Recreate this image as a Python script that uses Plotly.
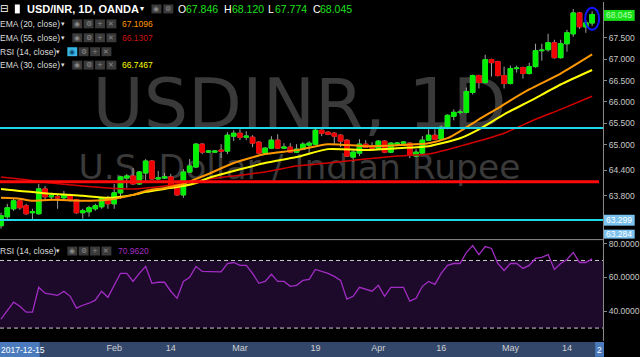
import plotly.graph_objects as go
import pandas as pd

# ---------------- data ----------------
dates = pd.bdate_range("2018-01-08", periods=95) + pd.Timedelta(hours=12)

opens = [63.104, 63.314, 63.500, 63.686, 63.570, 63.407, 63.384, 63.965, 63.779, 63.779,
         63.756, 63.825, 63.709, 63.407, 63.430, 63.500, 63.546, 63.756, 63.616, 63.872,
         64.221, 64.267, 64.081, 64.337, 64.616, 64.198, 64.221, 64.244, 64.012, 63.825,
         64.360, 64.477, 65.011, 64.825, 64.825, 64.872, 64.849, 65.198, 65.267, 65.174,
         65.174, 65.058, 64.802, 64.918, 65.105, 64.918, 64.942, 64.825, 64.895, 64.988,
         65.011, 65.337, 65.291, 65.267, 65.221, 65.105, 64.709, 64.802, 65.011, 64.965,
         64.918, 65.081, 64.825, 65.011, 65.035, 65.035, 64.732, 64.802, 65.105, 65.221,
         65.128, 65.384, 65.663, 65.756, 65.756, 66.221, 66.616, 66.453, 66.988, 66.942,
         66.616, 66.430, 66.779, 66.802, 66.663, 66.825, 67.197, 67.221, 67.383, 67.035,
         67.360, 67.593, 68.081, 67.756, 67.846]
highs = [63.407, 63.616, 63.756, 63.732, 63.616, 63.500, 64.081, 64.035, 63.872, 63.825,
         63.918, 63.849, 63.732, 63.500, 63.570, 63.616, 63.779, 63.802, 64.081, 64.267,
         64.314, 64.453, 64.384, 64.663, 64.639, 64.384, 64.337, 64.314, 64.035, 64.430,
         64.663, 65.035, 65.035, 64.872, 64.872, 65.011, 65.291, 65.337, 65.360, 65.314,
         65.221, 65.081, 64.942, 65.198, 65.244, 65.035, 65.035, 65.011, 65.058, 65.081,
         65.384, 65.360, 65.314, 65.291, 65.244, 65.128, 64.872, 65.128, 65.105, 65.058,
         65.105, 65.105, 65.058, 65.058, 65.081, 65.058, 64.895, 65.198, 65.360, 65.360,
         65.453, 65.709, 65.825, 65.825, 66.337, 66.639, 66.639, 67.104, 67.011, 66.965,
         66.825, 66.849, 66.849, 66.825, 66.918, 67.360, 67.360, 67.593, 67.453, 67.453,
         67.686, 68.174, 68.104, 67.918, 68.120]
lows = [63.035, 63.267, 63.453, 63.477, 63.360, 63.221, 63.360, 63.686, 63.686, 63.500,
        63.686, 63.662, 63.384, 63.267, 63.314, 63.453, 63.500, 63.500, 63.500, 63.732,
        63.988, 64.058, 64.058, 64.128, 64.174, 64.174, 64.198, 63.965, 63.802, 63.756,
        64.337, 64.453, 64.779, 64.802, 64.802, 64.686, 64.779, 65.081, 65.105, 65.105,
        64.942, 64.779, 64.779, 64.895, 64.895, 64.895, 64.802, 64.802, 64.872, 64.802,
        64.988, 65.198, 65.221, 65.011, 64.942, 64.709, 64.593, 64.732, 64.918, 64.895,
        64.895, 64.802, 64.802, 65.011, 65.011, 64.686, 64.709, 64.779, 65.081, 65.105,
        65.105, 65.360, 65.570, 65.709, 65.732, 66.174, 66.314, 66.430, 66.593, 66.593,
        66.314, 66.407, 66.686, 66.546, 66.639, 66.802, 66.965, 67.174, 67.011, 67.011,
        67.174, 67.523, 67.709, 67.616, 67.774]
closes = [63.337, 63.523, 63.686, 63.523, 63.384, 63.430, 63.965, 63.779, 63.802, 63.756,
          63.825, 63.709, 63.407, 63.453, 63.523, 63.570, 63.756, 63.616, 63.872, 64.244,
          64.267, 64.081, 64.360, 64.616, 64.198, 64.221, 64.244, 63.988, 63.825, 64.360,
          64.500, 65.011, 64.825, 64.849, 64.849, 64.849, 65.221, 65.267, 65.174, 65.198,
          65.035, 64.802, 64.918, 65.105, 64.918, 64.942, 64.825, 64.895, 65.011, 65.035,
          65.337, 65.267, 65.244, 65.198, 65.081, 64.732, 64.825, 65.011, 64.942, 64.918,
          65.081, 64.825, 65.035, 65.035, 65.058, 64.756, 64.825, 65.105, 65.221, 65.128,
          65.407, 65.686, 65.756, 65.760, 66.244, 66.616, 66.453, 66.988, 66.918, 66.616,
          66.430, 66.779, 66.790, 66.663, 66.825, 67.197, 67.210, 67.383, 67.035, 67.360,
          67.616, 68.081, 67.756, 67.849, 68.045]

# EMA readings (candle number -> value)
ema20_idx = [1, 4, 6, 9, 14, 18, 22, 24, 27, 30, 32, 34, 38, 43, 48, 53, 59, 64, 69, 72, 74, 77, 80, 81, 85, 90, 95]
ema20_val = [63.756, 63.732, 63.686, 63.709, 63.686, 63.709, 63.825, 63.918, 63.988, 64.081, 64.198, 64.314,
             64.570, 64.779, 64.872, 65.011, 64.965, 64.988, 65.035, 65.151, 65.314, 65.593, 65.849, 65.942,
             66.291, 66.663, 67.1096]
ema30_idx = [1, 4, 6, 9, 14, 18, 22, 24, 27, 30, 32, 34, 38, 43, 48, 53, 59, 64, 69, 74, 77, 81, 85, 90, 95]
ema30_val = [63.965, 63.918, 63.895, 63.849, 63.802, 63.756, 63.825, 63.895, 63.965, 64.035, 64.104, 64.221,
             64.384, 64.570, 64.709, 64.895, 64.872, 64.918, 64.965, 65.151, 65.360, 65.709, 66.011, 66.407,
             66.7467]
ema55_idx = [1, 4, 9, 14, 18, 22, 27, 34, 43, 48, 53, 59, 64, 69, 74, 81, 86, 90, 95]
ema55_val = [64.244, 64.198, 64.104, 64.035, 63.988, 63.965, 64.035, 64.198, 64.360, 64.500, 64.570, 64.663,
             64.732, 64.779, 64.965, 65.267, 65.593, 65.825, 66.1307]

rsi = [35.3, 40.6, 45.3, 42.9, 39.4, 39.4, 54.1, 50.6, 50.0, 49.4,
       51.8, 48.8, 41.8, 43.5, 44.7, 46.5, 51.8, 48.2, 55.3, 62.4,
       62.4, 57.6, 62.4, 66.5, 56.5, 57.1, 57.1, 51.8, 47.6, 57.6,
       60.0, 66.5, 63.5, 63.5, 63.5, 63.2, 68.2, 68.8, 67.1, 67.1,
       62.4, 56.5, 57.6, 61.8, 57.6, 57.6, 54.7, 55.3, 58.2, 58.8,
       64.7, 63.5, 62.4, 60.6, 58.2, 47.1, 48.8, 54.1, 52.9, 51.8,
       55.3, 48.8, 54.1, 54.1, 54.1, 45.9, 47.6, 54.7, 57.6, 55.9,
       62.4, 67.1, 68.2, 68.2, 74.7, 78.8, 73.5, 78.2, 77.1, 68.2,
       64.1, 68.2, 68.2, 65.3, 67.1, 71.2, 71.8, 73.5, 64.7, 68.2,
       70.6, 74.7, 68.8, 68.8, 70.962]

cyan_levels = [65.39, 63.235]
red_level = 64.13
rsi_levels = [70, 30]

price_ticks = [67.5, 67.0, 66.5, 66.0, 65.5, 65.0, 64.4, 63.8]
rsi_ticks = [80, 60, 40]
x_tick_dates = ["2018-02-01 12:00", "2018-02-14 12:00", "2018-03-01 12:00", "2018-03-19 12:00",
                "2018-04-02 12:00", "2018-04-16 12:00", "2018-05-01 12:00", "2018-05-14 12:00"]
x_tick_labels = ["Feb", "14", "Mar", "19", "Apr", "16", "May", "14"]

# ---------------- styling ----------------
W, H = 640, 357
PW, PH = 609, 341
FONT = "Liberation Sans, Arial, sans-serif"
UP, DN, WICK = "#00f000", "#f00000", "#a0a0a0"
AXC = "#8a8a8a"


def X(px):
    return px / PW


def Y(py):
    return 1 - py / PH


body_hi = [max(o, c) for o, c in zip(opens, closes)]
body_lo = [min(o, c) for o, c in zip(opens, closes)]

fig = go.Figure()
fig.add_trace(go.Candlestick(
    x=dates, open=opens, high=highs, low=lows, close=closes,
    increasing=dict(line=dict(color=WICK, width=1), fillcolor=WICK),
    decreasing=dict(line=dict(color=WICK, width=1), fillcolor=WICK),
    hoverinfo="skip", showlegend=False))
fig.add_trace(go.Candlestick(
    x=dates, open=opens, high=body_hi, low=body_lo, close=closes,
    increasing=dict(line=dict(color=UP, width=1), fillcolor=UP),
    decreasing=dict(line=dict(color=DN, width=1), fillcolor=DN),
    hoverinfo="skip", showlegend=False))

for idx, val, col, w in [(ema55_idx, ema55_val, "#d40000", 1.5),
                         (ema30_idx, ema30_val, "#ffff00", 2),
                         (ema20_idx, ema20_val, "#ff9800", 2)]:
    fig.add_trace(go.Scatter(x=[dates[i - 1] for i in idx], y=val, mode="lines",
                             line=dict(color=col, width=w, shape="spline", smoothing=0.6),
                             hoverinfo="skip", showlegend=False))

fig.add_trace(go.Scatter(x=dates, y=rsi, mode="lines", xaxis="x", yaxis="y2",
                         line=dict(color="#a22cc4", width=1.3), hoverinfo="skip", showlegend=False))

shapes = []
ann = []


def rect(x0, x1, y0, y1, color, layer="above"):
    shapes.append(dict(type="rect", xref="paper", yref="paper", x0=X(x0), x1=X(x1),
                       y0=Y(y1), y1=Y(y0), fillcolor=color, line=dict(width=0), layer=layer))


def text(px, py, s, color, size, bold=False, anchor="left", family=FONT):
    ann.append(dict(x=X(px), y=Y(py), xref="paper", yref="paper",
                    text=f"<b>{s}</b>" if bold else s, showarrow=False,
                    xanchor=anchor, yanchor="middle", borderpad=0, borderwidth=0,
                    font=dict(family=family, size=size, color=color)))


# watermark (below candles, via shape labels)
for (x0, x1, y0, y1, s, fs) in [(40, 565, 66, 130, "USDINR, 1D", 70),
                                (40, 565, 145, 182, "U.S. Dollar / Indian Rupee", 34.5)]:
    shapes.append(dict(type="rect", xref="paper", yref="paper", x0=X(x0), x1=X(x1),
                       y0=Y(y1), y1=Y(y0), line=dict(width=0), fillcolor="rgba(0,0,0,0)",
                       layer="below",
                       label=dict(text=s, textposition="middle center",
                                  font=dict(family="DejaVu Sans", size=fs, color="#3a3a3a"))))

# RSI band and levels
shapes.append(dict(type="rect", xref="paper", yref="y2", x0=0, x1=1, y0=rsi_levels[1], y1=rsi_levels[0],
                   fillcolor="#1d0a2b", line=dict(width=0), layer="below"))
for lv in rsi_levels:
    shapes.append(dict(type="line", xref="paper", yref="y2", x0=0, x1=1, y0=lv, y1=lv,
                       line=dict(color="#c8c8c8", width=1, dash="4px,3px"), layer="below"))

# horizontal price levels
for lv in cyan_levels:
    shapes.append(dict(type="line", xref="paper", yref="y", x0=0, x1=1, y0=lv, y1=lv,
                       line=dict(color="#1ed8e8", width=2)))
shapes.append(dict(type="line", xref="paper", yref="y", x0=0, x1=X(605), y0=red_level, y1=red_level,
                   line=dict(color="#ff0a0a", width=3)))

# ellipse around last candle
shapes.append(dict(type="circle", xref="x", yref="y", xsizemode="pixel", ysizemode="pixel",
                   xanchor=str(dates[-1]), yanchor=(highs[-1] + lows[-1]) / 2,
                   x0=-7, x1=7, y0=-11, y1=11, line=dict(color="#1414ff", width=2)))

# separators and axis line
shapes.append(dict(type="line", xref="paper", yref="paper", x0=0, x1=1, y0=Y(239), y1=Y(239),
                   line=dict(color=AXC, width=1)))
shapes.append(dict(type="line", xref="paper", yref="paper", x0=X(609.5), x1=X(609.5), y0=0, y1=1,
                   line=dict(color=AXC, width=1)))

# bottom time band
rect(0, 601, 342, 357, "#33476b", layer="below")
rect(0, 40, 342, 357, "#4b7bbd")
rect(601, 610, 342, 357, "#4b7bbd")
text(1, 350, "2017-12-15", "#ffffff", 8.5)
text(603, 350, "2", "#ffffff", 8.5)

# price labels on right axis
rect(610, 641, 8, 19, "#18e018")
text(612, 13.5, "68.045", "#b8ffb8", 8.5)
rect(610, 641, 214, 225, "#7cc2ee")
text(612, 219.5, "63.299", "#ffffff", 8.5)
rect(610, 641, 229, 238, "#7cc2ee")
text(612, 233.5, "63.284", "#ffffff", 8.5)

# legend rows
ICON_BG = "#3a3a3a"
GLYPH = "#8a8a8a"


def icons(xs, yc, glyphs, first_bg=ICON_BG, first_glyph=GLYPH):
    for k, (x0, g) in enumerate(zip(xs, glyphs)):
        bg = first_bg if k == 0 else ICON_BG
        gc = first_glyph if k == 0 else GLYPH
        rect(x0, x0 + 10, yc - 4.5, yc + 4.5, bg)
        text(x0 + 5, yc, g, gc, 7, anchor="center", family="DejaVu Sans")


# row 1
text(0, 7, "⊟", "#ffffff", 10, family="DejaVu Sans")
rect(15, 20, 2.5, 11.5, "#ffffff")
text(27, 7, "USD/INR, 1D, OANDA", "#ffffff", 11, bold=True)
text(141, 7, "▾", "#ffffff", 8, family="DejaVu Sans")
icons([153, 165], 7, ["◉", "⚙"])
for px, s, c in [(180, "O", "#ffffff"), (188, "67.846", "#1ee01e"),
                 (226, "H", "#ffffff"), (234, "68.120", "#1ee01e"),
                 (271, "L", "#ffffff"), (278, "67.774", "#1ee01e"),
                 (316, "C", "#ffffff"), (323, "68.045", "#1ee01e")]:
    text(px, 7, s, c, 10.5)

LG = "#dcdcdc"
rows = [(22, "EMA (20, close)", "67.1096", "#ff9800"),
        (36, "EMA (55, close)", "66.1307", "#cc1010"),
        (63.5, "EMA (30, close)", "66.7467", "#ffff00")]
for yc, lab, val, col in rows:
    text(0, yc, lab, LG, 8.5)
    text(62, yc, "▾", LG, 7, family="DejaVu Sans")
    icons([73, 84.5, 96, 107.5], yc, ["◉", "⚙", "+", "✕"])
    text(123, yc, val, col, 8.5)

text(0, 50, "RSI (14, close)", LG, 8.5)
text(57, 50, "▾", LG, 7, family="DejaVu Sans")
icons([68, 79.5, 91, 102.5], 50, ["◉", "⚙", "+", "✕"], first_bg="#3ab6e6", first_glyph="#0e4a6e")

# RSI pane legend
text(0, 250.5, "RSI (14, close)", LG, 8.5)
text(57, 250.5, "▾", LG, 7, family="DejaVu Sans")
icons([68, 79.5, 91, 102.5], 250.5, ["◉", "⚙", "+", "✕"])
text(119, 250.5, "70.9620", "#a22cc4", 8.5)

TICKF = dict(family=FONT, size=8.5, color="#c8c8c8")

fig.update_layout(
    width=W, height=H, margin=dict(l=0, r=31, t=0, b=16),
    paper_bgcolor="#000000", plot_bgcolor="#000000", showlegend=False,
    boxgap=0.15, boxgroupgap=0.15,
    xaxis=dict(domain=[0, 1], anchor="y2", type="date",
               range=["2018-01-08 08:10", "2018-05-22 05:30"],
               rangebreaks=[dict(bounds=["sat", "mon"])],
               tickmode="array", tickvals=x_tick_dates, ticktext=x_tick_labels,
               tickfont=dict(family=FONT, size=9, color="#d0d0d0"),
               showgrid=False, zeroline=False, showline=False, ticks="",
               rangeslider=dict(visible=False), fixedrange=True),
    yaxis=dict(domain=[Y(238), 1], anchor="x", side="right", range=[62.802, 68.337],
               tickmode="array", tickvals=price_ticks, ticktext=[f"{v:.3f}" for v in price_ticks],
               ticks="outside", ticklen=3, tickcolor=AXC, tickfont=TICKF,
               showgrid=False, zeroline=False, showline=False, fixedrange=True),
    yaxis2=dict(domain=[0, Y(240)], anchor="x", side="right", range=[22.35, 81.76],
                tickmode="array", tickvals=rsi_ticks, ticktext=[f"{v:.4f}" for v in rsi_ticks],
                ticks="outside", ticklen=3, tickcolor=AXC, tickfont=TICKF,
                showgrid=False, zeroline=False, showline=False, fixedrange=True),
    shapes=shapes, annotations=ann,
)

fig.write_html("out.html")
